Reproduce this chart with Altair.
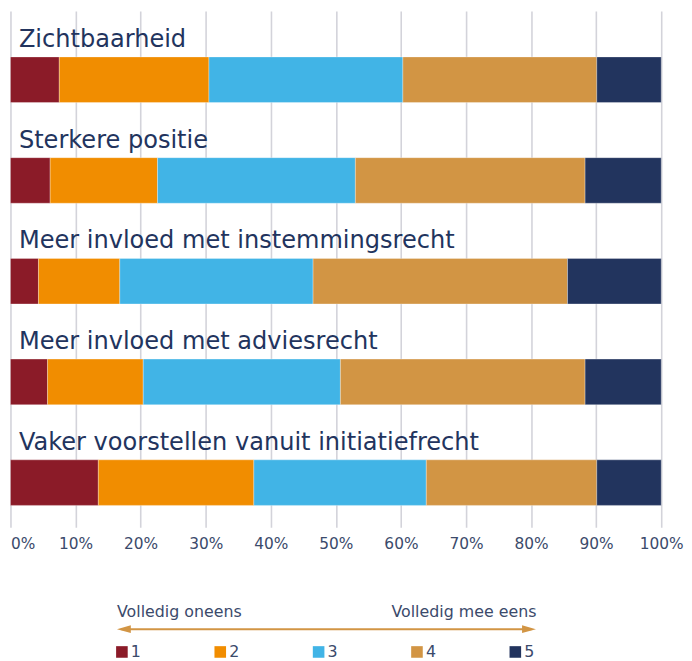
import altair as alt
import pandas as pd

# ---- data ----
categories = [
    "Zichtbaarheid",
    "Sterkere positie",
    "Meer invloed met instemmingsrecht",
    "Meer invloed met adviesrecht",
    "Vaker voorstellen vanuit initiatiefrecht",
]
levels = ["1", "2", "3", "4", "5"]
v1 = [7.5, 6.1, 4.3, 5.7, 13.5]
v2 = [23.0, 16.5, 12.5, 14.7, 23.9]
v3 = [29.8, 30.4, 29.7, 30.3, 26.5]
v4 = [29.8, 35.3, 39.1, 37.6, 26.2]
v5 = [9.9, 11.7, 14.4, 11.7, 9.9]
colors = ["#8b1b28", "#f18d00", "#41b4e6", "#d29544", "#22345e"]
x_ticks = [0, 10, 20, 30, 40, 50, 60, 70, 80, 90, 100]
scale_left_text = ["Volledig oneens"]
scale_right_text = ["Volledig mee eens"]

series = [v1, v2, v3, v4, v5]
rows = []
for i, cat in enumerate(categories):
    for j, lev in enumerate(levels):
        rows.append({"category": cat, "row": i, "level": lev, "ord": j, "value": series[j][i]})
df = pd.DataFrame(rows)
titles = pd.DataFrame({"category": categories, "row": list(range(len(categories)))})

# ---- style ----
W, H = 657, 521
FONT = "DejaVu Sans"
TITLE_COLOR = "#22345e"
LABEL_COLOR = "#3b4a6b"
ARROW_COLOR = "#d29544"

xscale = alt.Scale(domain=[0, 100], nice=False, zero=False, padding=0)
yscale = alt.Scale(domain=[-0.681, 4.442], reverse=True, nice=False, zero=False, padding=0)

bars = alt.Chart(df).mark_bar(size=46, orient="horizontal", stroke="white", strokeWidth=0.3).encode(
    x=alt.X(
        "value:Q",
        stack="zero",
        scale=xscale,
        axis=alt.Axis(
            values=x_ticks,
            labelExpr="datum.value + '%'",
            grid=True,
            gridColor="#d3d3da",
            gridWidth=1.6,
            ticks=False,
            domain=False,
            labelFont=FONT,
            labelFontSize=15.5,
            labelColor=LABEL_COLOR,
            labelPadding=10,
            labelAlign={"condition": {"test": "datum.value == 0", "value": "left"}, "value": "center"},
            title=None,
        ),
    ),
    y=alt.Y("row:Q", scale=yscale, axis=None),
    color=alt.Color(
        "level:N",
        scale=alt.Scale(domain=levels, range=colors),
        legend=alt.Legend(
            orient="none",
            legendX=104.5,
            legendY=639,
            direction="horizontal",
            columns=5,
            gridAlign="all",
            columnPadding=71.3,
            symbolType="square",
            symbolSize=137,
            symbolStrokeWidth=0,
            symbolOpacity=1,
            labelFont=FONT,
            labelFontSize=16,
            labelColor=LABEL_COLOR,
            labelOffset=1,
            title=None,
            padding=0,
        ),
    ),
    order=alt.Order("ord:Q", sort="ascending"),
)

title_text = alt.Chart(titles).mark_text(
    align="left", baseline="alphabetic", dx=8.5, dy=-33,
    font=FONT, fontSize=24.3, color=TITLE_COLOR,
).encode(
    x=alt.datum(0),
    y=alt.Y("row:Q", scale=yscale),
    text="category:N",
)

one = pd.DataFrame({"a": [0]})
arrow_line = alt.Chart(one).mark_rule(color=ARROW_COLOR, strokeWidth=2).encode(
    x=alt.value(112), x2=alt.value(526), y=alt.value(624)
)
head_left = alt.Chart(one).mark_point(
    shape="M -1 0 L 1 -0.55 L 1 0.55 Z", filled=True, size=196, opacity=1, color=ARROW_COLOR
).encode(x=alt.value(114.5), y=alt.value(624))
head_right = alt.Chart(one).mark_point(
    shape="M 1 0 L -1 -0.55 L -1 0.55 Z", filled=True, size=196, opacity=1, color=ARROW_COLOR
).encode(x=alt.value(523.5), y=alt.value(624))

left_txt = alt.Chart(pd.DataFrame({"t": scale_left_text})).mark_text(
    align="left", baseline="alphabetic", font=FONT, fontSize=16, color=LABEL_COLOR
).encode(x=alt.value(107.5), y=alt.value(611.5), text="t:N")
right_txt = alt.Chart(pd.DataFrame({"t": scale_right_text})).mark_text(
    align="right", baseline="alphabetic", font=FONT, fontSize=16, color=LABEL_COLOR
).encode(x=alt.value(531), y=alt.value(611.5), text="t:N")

chart = alt.layer(
    bars, title_text, arrow_line, head_left, head_right, left_txt, right_txt
).properties(
    width=W, height=H, padding={"left": 1.5, "top": 0, "right": 0, "bottom": 0}
).configure_view(stroke=None)

chart.save("out.html", embed_options={"renderer": "svg", "actions": False})
